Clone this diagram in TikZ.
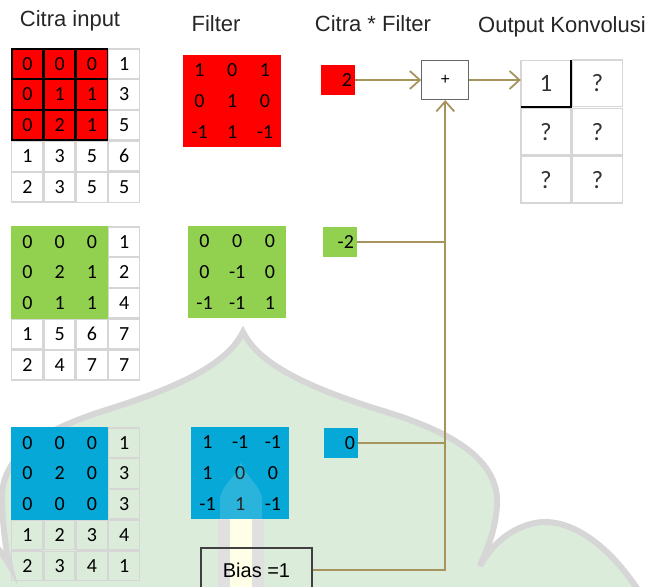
\documentclass[tikz,border=0pt]{standalone}
\usepackage{fontspec}
\setmainfont{Liberation Sans}
\newfontfamily\carlito{Carlito}
\usepackage{tikz}
\usetikzlibrary{matrix,positioning,arrows.meta}

\definecolor{hot}{RGB}{255,0,0}
\definecolor{leaf}{RGB}{146,208,80}
\definecolor{sky}{RGB}{5,168,214}
\definecolor{wirecol}{RGB}{166,148,92}
\definecolor{cellline}{RGB}{214,214,214}
\definecolor{domefill}{RGB}{219,236,218}
\definecolor{domeline}{RGB}{214,214,214}

\newcommand\gridfont{\carlito\fontsize{20}{23}\selectfont}
\newcommand\bigfont{\carlito\fontsize{25}{29}\selectfont}
\newcommand\headfont{\fontsize{22}{26}\selectfont}

\begin{document}
\begin{tikzpicture}[x=1pt,y=-1pt]
\tikzstyle{imgmat}=[matrix of nodes, inner sep=0pt, column sep=0pt, row sep=0pt, anchor=north west,
  nodes={draw=cellline, line width=1.3pt, outer sep=0pt, inner sep=0pt,
    minimum width=30.95pt, minimum height=29.5pt, font=\gridfont}]
\tikzstyle{kermat}=[matrix of nodes, inner sep=0pt, anchor=north west,
  nodes={inner sep=0pt, outer sep=0pt, minimum width=32.7pt, minimum height=30.6pt, font=\gridfont}]
\tikzstyle{rc}=[fill=hot, draw=black]
\tikzstyle{gc}=[fill=leaf, draw=leaf]
\tikzstyle{bc}=[fill=sky, draw=sky]
\tikzstyle{res}=[minimum height=30pt, text width=28pt, inner xsep=3pt, align=right, font=\gridfont]
\tikzstyle{wire}=[draw=wirecol, line width=1.8pt]
\tikzstyle{arr}=[-{Straight Barb[length=10pt, width=18pt]}]
\tikzstyle{head}=[anchor=base, font=\headfont, text=black!85]

\useasboundingbox (0,0) rectangle (652,586);
\clip (0,0) rectangle (652,586);

% dome watermark behind everything
\filldraw[fill=domefill, draw=domeline, line width=6pt]
  (-160,610) .. controls (-130,555) and (-90,522) .. (-55,522)
  .. controls (-40,522) and (-10,530) .. (10,566)
  .. controls (6,550) and (3,530) .. (2,500)
  .. controls (0,450) and (56,426) .. (106,410)
  .. controls (186,385) and (228,362) .. (243,332)
  .. controls (258,362) and (300,385) .. (380,410)
  .. controls (440,428) and (500,455) .. (497,505)
  .. controls (495,535) and (485,552) .. (480,566)
  .. controls (500,530) and (530,522) .. (545,522)
  .. controls (580,522) and (620,555) .. (650,610) -- cycle;
\fill[black!12] (218,610) -- (218,500) .. controls (218,486) and (236,478) .. (241,462)
  .. controls (246,478) and (264,486) .. (264,500) -- (264,610) -- cycle;
\fill[yellow!10] (230,480) rectangle (252,610);

\node[head] (t1) at (70,27) {Citra input};
\node[head] (t2) at (216,32) {Filter};
\node[head] (t3) at (373,32) {Citra * Filter};
\node[head] (t4) at (562,33) {Output Konvolusi};

% input images
\matrix (ri) [imgmat] at (11,48) {
|[rc]| 0 & |[rc]| 0 & |[rc]| 0 & 1 \\
|[rc]| 0 & |[rc]| 1 & |[rc]| 1 & 3 \\
|[rc]| 0 & |[rc]| 2 & |[rc]| 1 & 5 \\
1 & 3 & 5 & 6 \\
2 & 3 & 5 & 5 \\
};
\draw[line width=1.3pt] (ri-1-1.north west) rectangle (ri-3-3.south east);

\matrix (gi) [imgmat] at (11,226) {
|[gc]| 0 & |[gc]| 0 & |[gc]| 0 & 1 \\
|[gc]| 0 & |[gc]| 2 & |[gc]| 1 & 2 \\
|[gc]| 0 & |[gc]| 1 & |[gc]| 1 & 4 \\
1 & 5 & 6 & 7 \\
2 & 4 & 7 & 7 \\
};

\matrix (bi) [imgmat] at (11,427) {
|[bc]| 0 & |[bc]| 0 & |[bc]| 0 & 1 \\
|[bc]| 0 & |[bc]| 2 & |[bc]| 0 & 3 \\
|[bc]| 0 & |[bc]| 0 & |[bc]| 0 & 3 \\
1 & 2 & 3 & 4 \\
2 & 3 & 4 & 1 \\
};

% filters
\matrix (rf) [kermat, fill=hot] at (183,55) {
1 & 0 & 1 \\
0 & 1 & 0 \\
-1 & 1 & -1 \\
};
\matrix (gf) [kermat, fill=leaf] at (188,226) {
0 & 0 & 0 \\
0 & -1 & 0 \\
-1 & -1 & 1 \\
};
\matrix (bf) [kermat, fill=sky] at (191,427) {
1 & -1 & -1 \\
1 & 0 & 0 \\
-1 & 1 & -1 \\
};
\begin{scope}
\clip (bf.north west) rectangle (bf.south east);
\fill[white, opacity=.15] (220,530) -- (220,500) .. controls (220,486) and (236,478) .. (241,462)
  .. controls (246,478) and (262,486) .. (262,500) -- (262,530) -- cycle;
\end{scope}

% products
\node (rr) [res, fill=hot] at (338,80) {2};
\node (gr) [res, fill=leaf] at (340,242) {-2};
\node (br) [res, fill=sky] at (341,443) {0};

\node (plus) [draw=black!60, line width=1.2pt, fill=white, minimum width=47pt, minimum height=39pt,
  font=\fontsize{16}{18}\selectfont, right=66pt of rr] {+};
\node (bias) [draw=black!75, line width=1.2pt, minimum width=111pt, minimum height=44pt,
  font=\fontsize{20}{24}\selectfont] at (256.5,570) {Bias =1};

% output
\matrix (out) [imgmat, nodes={minimum width=50.2pt, minimum height=46.7pt, font=\bigfont, text=black!80}] at (520,59) {
1 & ? \\
? & ? \\
? & ? \\
};
\draw[line width=1.3pt] (out-1-1.north east) -- (out-1-1.south east) -- (out-1-1.south west);

\draw[wire, arr] (rr) -- (plus);
\draw[wire, arr] (plus.east) -- (plus.east -| out-1-1.west);
\draw[wire] (gr.east) -- (gr.east -| plus.south);
\draw[wire] (br.east) -- (br.east -| plus.south);
\draw[wire, arr] (bias.east) -| (plus.south);
\end{tikzpicture}
\end{document}
